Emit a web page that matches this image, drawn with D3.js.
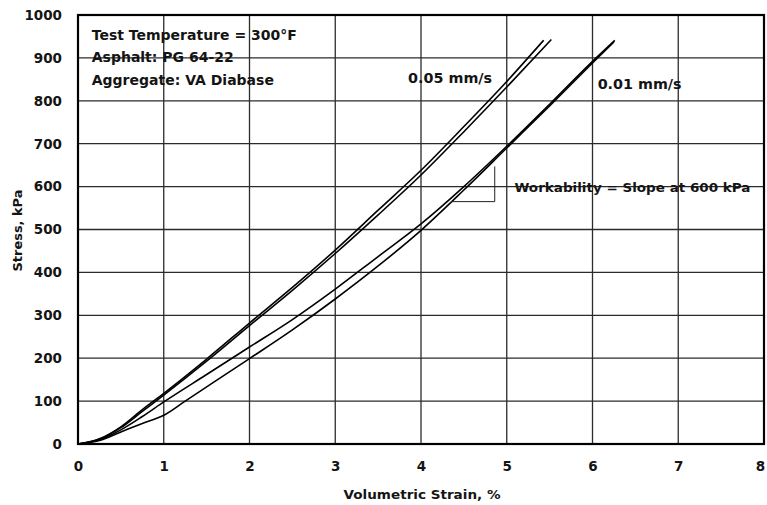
<!DOCTYPE html>
<html>
<head>
<meta charset="utf-8">
<style>
  body { margin: 0; background: #fff; }
  text { font-family: "DejaVu Sans", sans-serif; font-weight: bold; fill: #141414; }
</style>
</head>
<body>
<div id="chart"></div>
<script src="https://cdn.jsdelivr.net/npm/d3@7"></script>
<script>
// tick values
const xTicks = [0, 1, 2, 3, 4, 5, 6, 7, 8]
const yTicks = [0, 100, 200, 300, 400, 500, 600, 700, 800, 900, 1000]

// 0.05 mm/s, two runs
const strainA = [0, 0.25, 0.5, 0.75, 1, 1.5, 2, 2.5, 3, 3.5, 4, 4.5, 5, 5.43]
const stressA = [0, 12, 40, 80, 118, 198, 282, 365, 452, 545, 638, 740, 845, 941]
const strainB = [0, 0.25, 0.5, 0.75, 1, 1.5, 2, 2.5, 3, 3.5, 4, 4.5, 5, 5.52]
const stressB = [0, 11, 38, 76, 114, 193, 276, 358, 444, 534, 627, 728, 832, 943]

// 0.01 mm/s, two runs
const strainC = [0, 0.25, 0.5, 0.75, 1, 1.5, 2, 2.5, 3, 3.5, 4, 4.5, 5, 5.5, 6, 6.26]
const stressC = [0, 10, 33, 64, 98, 162, 226, 290, 361, 437, 513, 600, 694, 792, 892, 941]
const strainD = [0, 0.25, 0.5, 0.75, 1, 1.25, 1.5, 2, 2.5, 3, 3.5, 4, 4.5, 5, 5.5, 6, 6.25]
const stressD = [0, 8, 28, 48, 67, 100, 133, 199, 266, 338, 415, 498, 592, 690, 788, 888, 937]

// slope triangle at 600 kPa
const triStrain = [4.35, 4.86, 4.86]
const triStress = [565, 565, 647]

const infoLines = ["Test Temperature = 300°F", "Asphalt: PG 64-22", "Aggregate: VA Diabase"]

const width = 767, height = 505
const margin = { top: 15, right: 3, bottom: 61, left: 78 }

const svg = d3.select("#chart").append("svg")
    .attr("width", width)
    .attr("height", height)

const x = d3.scaleLinear().domain([0, 8]).range([margin.left, width - margin.right])
const y = d3.scaleLinear().domain([0, 1000]).range([height - margin.bottom, margin.top])

// grid
svg.append("g")
    .selectAll("line")
    .data(xTicks)
    .enter().append("line")
    .attr("x1", d => x(d)).attr("x2", d => x(d))
    .attr("y1", y(0)).attr("y2", y(1000))
    .style("stroke", "#2b2b2b").style("stroke-width", 1.3)

svg.append("g")
    .selectAll("line")
    .data(yTicks)
    .enter().append("line")
    .attr("x1", x(0)).attr("x2", x(8))
    .attr("y1", d => y(d)).attr("y2", d => y(d))
    .style("stroke", "#2b2b2b").style("stroke-width", 1.3)

// frame
svg.append("rect")
    .attr("x", x(0)).attr("y", y(1000))
    .attr("width", x(8) - x(0)).attr("height", y(0) - y(1000))
    .attr("fill", "none")
    .style("stroke", "#000").style("stroke-width", 2.2)

// axes
const xAxis = svg.append("g")
    .attr("transform", "translate(0," + y(0) + ")")
    .call(d3.axisBottom(x).tickValues(xTicks).tickSize(0).tickPadding(17))
xAxis.select(".domain").remove()
xAxis.selectAll("text").style("font-size", "13.5px").style("font-family", "DejaVu Sans").attr("fill", "#141414")
// last label sits against the window edge
xAxis.selectAll("text").filter(d => d === 8).attr("text-anchor", "end").attr("dx", "0.05em")

const yAxis = svg.append("g")
    .attr("transform", "translate(" + x(0) + ",0)")
    .call(d3.axisLeft(y).tickValues(yTicks).tickSize(0).tickPadding(16).tickFormat(d3.format("d")))
yAxis.select(".domain").remove()
yAxis.selectAll("text").style("font-size", "13.5px").style("font-family", "DejaVu Sans").attr("fill", "#141414")

svg.append("text")
    .attr("x", (x(0) + x(8)) / 2 + 1)
    .attr("y", 499)
    .attr("text-anchor", "middle")
    .style("font-size", "12.5px")
    .attr("textLength", 157).attr("lengthAdjust", "spacingAndGlyphs")
    .text("Volumetric Strain, %")

svg.append("text")
    .attr("transform", "translate(22," + ((y(0) + y(1000)) / 2 + 1) + ") rotate(-90)")
    .attr("text-anchor", "middle")
    .style("font-size", "12.5px")
    .attr("textLength", 82).attr("lengthAdjust", "spacingAndGlyphs")
    .text("Stress, kPa")

// curves
const line = d3.line().x(d => x(d[0])).y(d => y(d[1])).curve(d3.curveMonotoneX)
const series = [
    d3.zip(strainA, stressA),
    d3.zip(strainB, stressB),
    d3.zip(strainC, stressC),
    d3.zip(strainD, stressD)
]
svg.append("g")
    .selectAll("path")
    .data(series)
    .enter().append("path")
    .attr("d", line)
    .attr("fill", "none")
    .style("stroke", "#000")
    .style("stroke-width", 1.6)

svg.append("path")
    .attr("d", d3.line()(d3.zip(triStrain.map(x), triStress.map(y))))
    .attr("fill", "none")
    .style("stroke", "#222")
    .style("stroke-width", 1)

// labels
svg.append("g")
    .selectAll("text")
    .data(infoLines)
    .enter().append("text")
    .attr("x", x(0.16))
    .attr("y", (d, i) => y(942) + i * 22.5)
    .style("font-size", "14px")
    .text(d => d)

svg.append("text").attr("x", x(3.85)).attr("y", y(842))
    .style("font-size", "13.5px")
    .attr("textLength", 84).attr("lengthAdjust", "spacingAndGlyphs")
    .text("0.05 mm/s")
svg.append("text").attr("x", x(6.06)).attr("y", y(828))
    .style("font-size", "13.5px")
    .attr("textLength", 84).attr("lengthAdjust", "spacingAndGlyphs")
    .text("0.01 mm/s")
svg.append("text").attr("x", x(5.09)).attr("y", y(588))
    .style("font-size", "13px")
    .attr("textLength", 236).attr("lengthAdjust", "spacingAndGlyphs")
    .text("Workability = Slope at 600 kPa")
</script>
</body>
</html>
